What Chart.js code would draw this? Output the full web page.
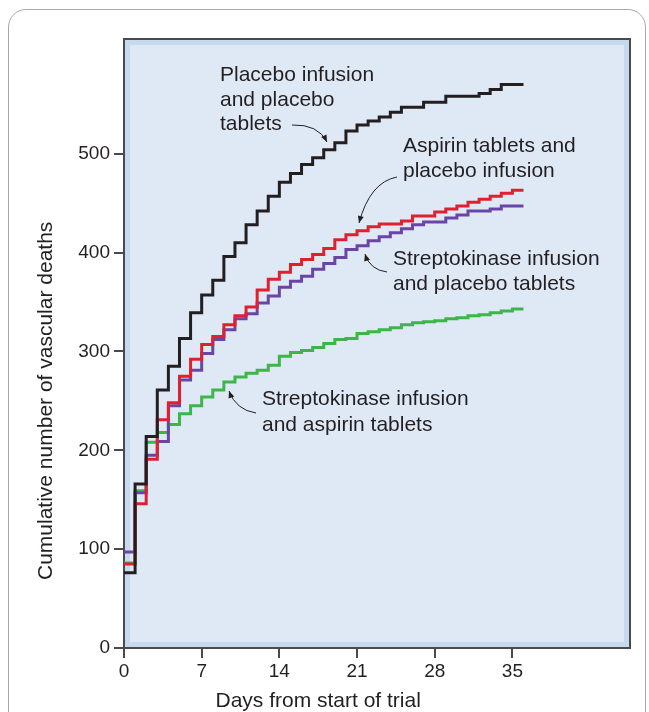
<!DOCTYPE html>
<html>
<head>
<meta charset="utf-8">
<script src="https://cdn.jsdelivr.net/npm/chart.js@4.4.1/dist/chart.umd.min.js"></script>
<style>
    html, body { margin: 0; padding: 0; background: #ffffff; }
    #wrap { position: relative; width: 649px; height: 712px; overflow: hidden; }
    #card {
        position: absolute; left: 8px; top: 9px; width: 638px; height: 800px;
        border: 1.5px solid #a9a9a9; border-radius: 18px; box-sizing: border-box;
    }
    #chart { position: absolute; left: 0; top: 0; }
</style>
</head>
<body>
<div id="wrap">
    <div id="card"></div>
    <canvas id="chart" width="649" height="712"></canvas>
</div>
<script>
// Days from start of trial (each value holds from that day to the next)
const days = [0, 1, 2, 3, 4, 5, 6, 7, 8, 9, 10, 11, 12, 13, 14, 15, 16, 17, 18,
    19, 20, 21, 22, 23, 24, 25, 26, 27, 28, 29, 30, 31, 32, 33, 34, 35, 36];

// Cumulative vascular deaths per group
const placeboBoth = [76, 166, 214, 261, 285, 313, 339, 357, 372, 396, 410, 428, 442, 457, 471, 480, 489, 496, 504,
    511, 523, 529, 533, 537, 542, 547, 547, 552, 552, 558, 558, 558, 561, 565, 570, 570, 570];
const aspirinOnly = [85, 146, 191, 231, 248, 275, 292, 307, 315, 327, 336, 345, 362, 373, 380, 388, 393, 398, 404,
    413, 418, 422, 426, 429, 429, 432, 437, 437, 441, 444, 447, 451, 454, 457, 460, 463, 463];
const streptoOnly = [97, 157, 195, 209, 245, 271, 281, 298, 312, 322, 333, 338, 349, 356, 365, 371, 376, 383, 389,
    395, 403, 407, 412, 416, 420, 424, 428, 431, 431, 435, 438, 442, 442, 444, 447, 447, 447];
const streptoAspirin = [86, 159, 208, 218, 226, 237, 245, 254, 261, 269, 274, 278, 281, 286, 295, 299, 301, 304, 308,
    312, 313, 318, 320, 322, 324, 327, 329, 330, 331, 333, 334, 336, 337, 339, 341, 343, 343];

const xTicks = [0, 7, 14, 21, 28, 35];
const yTicks = [0, 100, 200, 300, 400, 500];

const FONT = '"Liberation Sans", Arial, Helvetica, sans-serif';
const TEXT = '#231f20';

function toPoints(values) {
    return days.map((d, i) => ({ x: d, y: values[i] }));
}

function makeSeries(label, values, color) {
    return {
        label: label,
        data: toPoints(values),
        borderColor: color,
        borderWidth: 3,
        pointRadius: 0,
        stepped: true,
        fill: false,
        borderJoinStyle: 'miter',
        borderCapStyle: 'butt'
    };
}

// Plot box: light blue band, inner fill and dark frame
const frame = {
    id: 'frame',
    beforeDraw(chart) {
        const { ctx, chartArea: a } = chart;
        ctx.save();
        ctx.fillStyle = '#c6d9ef';
        ctx.fillRect(a.left, a.top, a.width, a.height);
        ctx.fillStyle = '#dfe9f6';
        ctx.fillRect(a.left + 6, a.top + 6, a.width - 12, a.height - 12);
        ctx.strokeStyle = '#4a4a4a';
        ctx.lineWidth = 2;
        ctx.strokeRect(a.left, a.top, a.width, a.height);
        ctx.restore();
    }
};

function arrow(ctx, x0, y0, cx, cy, x1, y1) {
    ctx.beginPath();
    ctx.moveTo(x0, y0);
    ctx.quadraticCurveTo(cx, cy, x1, y1);
    ctx.stroke();
    const ang = Math.atan2(y1 - cy, x1 - cx);
    const len = 7, half = 3;
    ctx.beginPath();
    ctx.moveTo(x1, y1);
    ctx.lineTo(x1 - len * Math.cos(ang) + half * Math.sin(ang), y1 - len * Math.sin(ang) - half * Math.cos(ang));
    ctx.lineTo(x1 - len * Math.cos(ang) - half * Math.sin(ang), y1 - len * Math.sin(ang) + half * Math.cos(ang));
    ctx.closePath();
    ctx.fill();
}

// Group labels with curved arrows, plus axis titles
const labels = {
    id: 'labels',
    afterDraw(chart) {
        const ctx = chart.ctx;
        const xs = chart.scales.x, ys = chart.scales.y;
        ctx.save();
        ctx.fillStyle = TEXT;
        ctx.strokeStyle = TEXT;
        ctx.lineWidth = 1;
        ctx.font = '21px ' + FONT;
        ctx.textAlign = 'left';
        ctx.textBaseline = 'alphabetic';

        ctx.fillText('Placebo infusion', 220, 81);
        ctx.fillText('and placebo', 220, 106);
        ctx.fillText('tablets', 220, 130);
        arrow(ctx, 292, 125, 318, 124, 327, 142);

        ctx.fillText('Aspirin tablets and', 403, 152);
        ctx.fillText('placebo infusion', 403, 177);
        arrow(ctx, 397, 177, 370, 182, 359, 223);

        ctx.fillText('Streptokinase infusion', 393, 265);
        ctx.fillText('and placebo tablets', 393, 290);
        arrow(ctx, 387, 272, 370, 270, 365, 254);

        ctx.fillText('Streptokinase infusion', 262, 405);
        ctx.fillText('and aspirin tablets', 262, 431);
        arrow(ctx, 256, 413, 236, 410, 229, 391);

        // axis titles, centred on the labelled tick range
        ctx.textAlign = 'center';
        ctx.fillText('Days from start of trial', xs.getPixelForValue(17.5), 707);
        ctx.translate(46, ys.getPixelForValue(250));
        ctx.rotate(-Math.PI / 2);
        ctx.textBaseline = 'middle';
        ctx.fillText('Cumulative number of vascular deaths', 0, 0);
        ctx.restore();
    }
};

new Chart(document.getElementById('chart'), {
    type: 'line',
    data: {
        datasets: [
            makeSeries('Placebo infusion and placebo tablets', placeboBoth, '#231f20'),
            makeSeries('Aspirin tablets and placebo infusion', aspirinOnly, '#e0202e'),
            makeSeries('Streptokinase infusion and placebo tablets', streptoOnly, '#6a45a5'),
            makeSeries('Streptokinase infusion and aspirin tablets', streptoAspirin, '#3db54a')
        ]
    },
    options: {
        responsive: false,
        animation: false,
        events: [],
        layout: { padding: { left: 0, top: 39, right: 19, bottom: 0 } },
        plugins: {
            legend: { display: false },
            tooltip: { enabled: false }
        },
        scales: {
            x: {
                type: 'linear',
                min: 0,
                max: 45.6,
                afterBuildTicks: scale => { scale.ticks = xTicks.map(v => ({ value: v })); },
                afterFit: scale => { scale.height = 64; },
                border: { display: false },
                grid: { drawOnChartArea: false, drawTicks: true, tickLength: 10, color: '#4a4a4a', lineWidth: 2 },
                ticks: { color: TEXT, padding: 2, maxRotation: 0, font: { family: FONT, size: 19 } }
            },
            y: {
                min: 0,
                max: 616,
                afterBuildTicks: scale => { scale.ticks = yTicks.map(v => ({ value: v })); },
                afterFit: scale => { scale.width = 124; },
                border: { display: false },
                grid: { drawOnChartArea: false, drawTicks: true, tickLength: 10, color: '#4a4a4a', lineWidth: 2 },
                ticks: { color: TEXT, padding: 4, font: { family: FONT, size: 19 } }
            }
        }
    },
    plugins: [frame, labels]
});
</script>
</body>
</html>
